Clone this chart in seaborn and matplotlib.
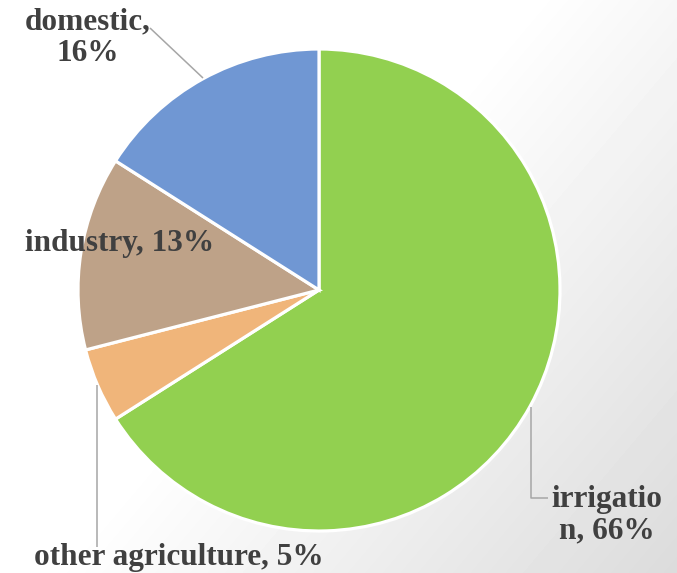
import numpy as np
import matplotlib
matplotlib.use('Agg')
from matplotlib import pyplot as plt
import seaborn as sns

# water use shares (percent)
categories = ['irrigation', 'other agriculture', 'industry', 'domestic']
shares = [66, 5, 13, 16]
slice_colors = ['#92D050', '#F0B57A', '#BEA288', '#7097D3']

sns.set_theme(style='white')
plt.rcParams['font.family'] = ['Liberation Serif', 'DejaVu Serif']

W, H = 677, 573
fig = plt.figure(figsize=(W / 100, H / 100), dpi=100)

# soft gray background, darker towards the lower right
bg = fig.add_axes([0, 0, 1, 1], zorder=0)
yy, xx = np.mgrid[0:H, 0:W]
t = 0.7 * xx / W + 0.5 * yy / H
shade = 1 - 0.14 * np.clip((t - 0.55) / 0.65, 0, 1)
bg.imshow(shade, cmap='gray', vmin=0, vmax=1, extent=[0, W, H, 0], aspect='auto')
bg.axis('off')

# pie axes: centre (319, 290) px, radius 241 px
cx, cy, r = 319, 290, 241
ax = fig.add_axes([(cx - r) / W, (H - cy - r) / H, 2 * r / W, 2 * r / H], zorder=1)
ax.patch.set_alpha(0)
pal = sns.color_palette(slice_colors)
ax.pie(shares, colors=pal, startangle=90, counterclock=False, radius=1,
       wedgeprops=dict(edgecolor='white', linewidth=2.3))
ax.set_xlim(-1, 1)
ax.set_ylim(-1, 1)
ax.axis('off')


def px(x, y):
    return (x - cx) / r, (cy - y) / r


txt = dict(fontsize=22.5, fontweight='bold', color='#404040', ha='center', va='center',
           clip_on=False, linespacing=1.1)
lead = dict(color='#A6A6A6', lw=1.1, clip_on=False, solid_capstyle='butt')

labels = [f'{c}, {v}%' for c, v in zip(categories, shares)]

# irrigation (label wraps mid-word as in the original)
ax.text(*px(607, 515), f'irrigatio\nn, {shares[0]}%', **txt)
xs, ys = zip(px(531, 407), px(531, 498), px(548, 498))
ax.plot(xs, ys, **lead)

# other agriculture
ax.text(*px(179, 557), labels[1], **txt)
xs, ys = zip(px(97, 385), px(97, 547))
ax.plot(xs, ys, **lead)

# industry
ax.text(*px(120, 243), labels[2], **txt)

# domestic
ax.text(*px(88, 38), f'{categories[3]},\n{shares[3]}%', **txt)
xs, ys = zip(px(150, 28), px(203, 78))
ax.plot(xs, ys, **lead)

fig.savefig('out.png', dpi=100)
